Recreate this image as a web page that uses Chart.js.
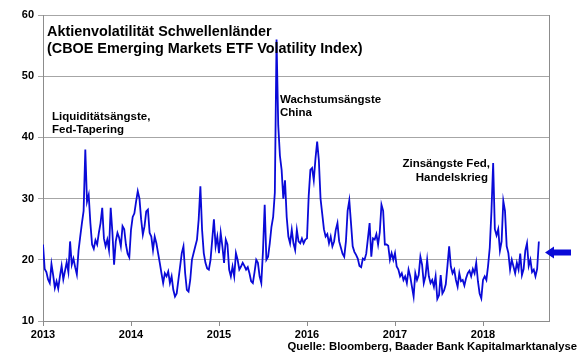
<!DOCTYPE html>
<html>
<head>
<meta charset="utf-8">
<script src="https://cdn.jsdelivr.net/npm/chart.js@4.4.1/dist/chart.umd.min.js"></script>
<style>
  html, body { margin: 0; padding: 0; background: #fff; }
  #wrap { width: 580px; height: 358px; }
</style>
</head>
<body>
<div id="wrap"><canvas id="chart" width="580" height="358"></canvas></div>
<script>
// weekly readings of the CBOE Emerging Markets ETF Volatility Index (VXEEM)
const vol2013 = [22.5, 18.5, 18.0, 16.8, 16.2, 19.3, 17.5, 15.4, 16.5, 15.3, 17.3, 19.0, 16.8, 18.2, 19.6, 18.0,
  23.0, 19.2, 20.2, 18.8, 17.6, 21.5, 23.8, 26.0, 28.0, 38.0, 29.5, 30.6, 26.0, 22.5, 21.8, 23.2, 22.5, 24.4,
  26.0, 28.5, 23.5, 22.2, 23.3, 21.6, 28.5, 24.5, 19.2, 23.0, 24.4, 23.6, 22.2, 25.5, 25.0, 22.5, 21.0, 20.4];
const vol2014 = [24.9, 27.0, 27.6, 29.5, 31.2, 30.0, 26.6, 24.1, 25.5, 27.9, 28.2, 24.4, 23.8, 21.6, 23.8, 22.7,
  21.1, 19.5, 17.8, 16.2, 17.8, 17.3, 18.1, 16.2, 17.3, 15.1, 14.0, 14.5, 16.7, 18.9, 21.1, 22.2, 17.8, 15.1,
  14.8, 16.7, 20.0, 21.1, 22.2, 23.3, 26.6, 32.0, 24.9, 21.1, 19.5, 18.6, 18.4, 20.0, 23.3, 26.6, 22.2, 23.8];
const vol2015 = [21.1, 24.4, 22.2, 19.5, 23.3, 22.5, 18.4, 17.3, 18.9, 17.3, 21.1, 20.0, 18.4, 18.9, 19.5, 19.0,
  18.4, 18.8, 17.8, 16.5, 16.2, 18.0, 20.0, 19.5, 17.3, 16.2, 21.5, 29.0, 20.0, 20.5, 22.7, 25.4, 27.0, 31.0,
  56.0, 42.0, 37.0, 34.7, 30.0, 33.0, 27.0, 23.8, 22.7, 24.9, 22.7, 21.6, 24.9, 23.0, 22.7, 23.5, 22.7, 23.3];
const vol2016 = [23.5, 30.4, 34.7, 35.0, 33.0, 36.5, 39.3, 36.3, 30.0, 27.5, 25.0, 23.8, 24.2, 22.7, 23.8, 22.2,
  23.0, 24.9, 26.0, 23.0, 22.0, 21.0, 20.5, 23.0, 28.0, 29.7, 26.0, 22.2, 21.3, 20.8, 20.2, 19.0, 18.8, 20.2,
  20.0, 21.0, 23.5, 26.0, 20.5, 23.5, 23.3, 24.2, 22.5, 24.5, 29.0, 28.0, 22.5, 22.5, 22.3, 20.0, 21.1, 20.0];
const vol2017 = [21.1, 18.9, 18.4, 17.3, 17.8, 16.7, 17.3, 16.2, 18.4, 17.3, 15.6, 14.0, 17.8, 16.7, 17.5, 20.5,
  19.2, 16.2, 17.3, 20.0, 17.3, 16.2, 16.7, 15.6, 17.3, 13.6, 14.2, 17.5, 14.5, 15.0, 16.0, 19.0, 22.2, 18.9,
  17.8, 18.4, 16.7, 15.6, 17.8, 16.5, 16.7, 15.8, 17.0, 17.8, 18.2, 17.3, 18.5, 17.8, 19.5, 16.5, 14.5, 13.7];
const vol2018 = [16.7, 17.3, 16.7, 19.0, 22.0, 28.0, 35.8, 25.0, 24.0, 25.0, 21.5, 23.0, 29.6, 28.0, 22.2, 21.1,
  18.4, 20.0, 18.9, 17.8, 19.5, 18.4, 21.0, 17.5, 18.5, 21.5, 22.7, 19.0, 20.0, 18.0, 18.4, 17.3, 18.5, 23.0];

const years = [2013, 2014, 2015, 2016, 2017, 2018];
const yearlyValues = [vol2013, vol2014, vol2015, vol2016, vol2017, vol2018];
const weeksPerYear = 52;
const xMin = 2013, xMax = 2018.75;
const yMin = 10, yMax = 60, yStep = 10;
const currentLevel = 21.2; // where the arrow points

const titleLines = ['Aktienvolatilität Schwellenländer', '(CBOE Emerging Markets ETF Volatility Index)'];
const noteTapering = ['Liquiditätsängste,', 'Fed-Tapering'];
const noteChina = ['Wachstumsängste', 'China'];
const noteFed = ['Zinsängste Fed,', 'Handelskrieg'];
const sourceText = 'Quelle: Bloomberg, Baader Bank Kapitalmarktanalyse';

const points = [];
years.forEach((yr, k) => {
  yearlyValues[k].forEach((v, i) => points.push({ x: yr + i / weeksPerYear, y: v }));
});

const FONT = 'Liberation Sans, Arial, sans-serif';
Chart.defaults.font.family = FONT;
Chart.defaults.color = '#000';

const decor = {
  id: 'decor',
  afterDraw(chart) {
    const ctx = chart.ctx;
    const a = chart.chartArea;
    ctx.save();
    // right frame line
    ctx.strokeStyle = '#8c8c8c';
    ctx.lineWidth = 1;
    ctx.beginPath();
    ctx.moveTo(a.right + 0.5, a.top);
    ctx.lineTo(a.right + 0.5, a.bottom);
    ctx.stroke();

    ctx.fillStyle = '#000';
    ctx.textBaseline = 'middle';
    ctx.textAlign = 'left';
    ctx.font = 'bold 14.4px ' + FONT;
    ctx.fillText(titleLines[0], 47, 32);
    ctx.fillText(titleLines[1], 47, 49);

    ctx.font = 'bold 11.5px ' + FONT;
    ctx.fillText(noteTapering[0], 52, 117);
    ctx.fillText(noteTapering[1], 52, 130);
    ctx.fillText(noteChina[0], 280, 100);
    ctx.fillText(noteChina[1], 280, 113);
    ctx.textAlign = 'right';
    ctx.fillText(noteFed[0], 490, 164);
    ctx.fillText(noteFed[1], 488, 178);
    ctx.font = 'bold 11.3px ' + FONT;
    ctx.fillText(sourceText, 577, 347);

    // arrow pointing at the current level
    const y = chart.scales.y.getPixelForValue(currentLevel);
    const tip = a.right - 4;
    ctx.fillStyle = '#0a0ad8';
    ctx.beginPath();
    ctx.moveTo(tip, y);
    ctx.lineTo(tip + 9, y - 6);
    ctx.lineTo(tip + 9, y - 3);
    ctx.lineTo(tip + 26, y - 3);
    ctx.lineTo(tip + 26, y + 3);
    ctx.lineTo(tip + 9, y + 3);
    ctx.lineTo(tip + 9, y + 6);
    ctx.closePath();
    ctx.fill();
    ctx.restore();
  }
};

new Chart(document.getElementById('chart'), {
  type: 'line',
  data: {
    datasets: [{
      data: points,
      borderColor: '#0a0ad8',
      borderWidth: 1.8,
      pointRadius: 0,
      tension: 0,
      fill: false
    }]
  },
  options: {
    responsive: false,
    animation: false,
    layout: { padding: { top: 15, right: 31, left: 0, bottom: 0 } },
    plugins: { legend: { display: false }, tooltip: { enabled: false } },
    scales: {
      x: {
        type: 'linear',
        min: xMin,
        max: xMax,
        afterFit(s) { s.height = 37; },
        ticks: {
          stepSize: 1,
          includeBounds: false,
          padding: 2,
          maxRotation: 0,
          font: { size: 11, weight: 'bold' },
          callback: v => String(v)
        },
        grid: { drawOnChartArea: false, drawTicks: true, tickLength: 5, color: '#8c8c8c' },
        border: { display: true, color: '#8c8c8c' }
      },
      y: {
        min: yMin,
        max: yMax,
        afterFit(s) { s.width = 43; },
        ticks: {
          stepSize: yStep,
          padding: 4,
          font: { size: 11, weight: 'bold' },
          callback: v => String(v)
        },
        grid: { color: '#a6a6a6', tickLength: 5, drawTicks: true },
        border: { display: true, color: '#8c8c8c' }
      }
    }
  },
  plugins: [decor]
});
</script>
</body>
</html>
